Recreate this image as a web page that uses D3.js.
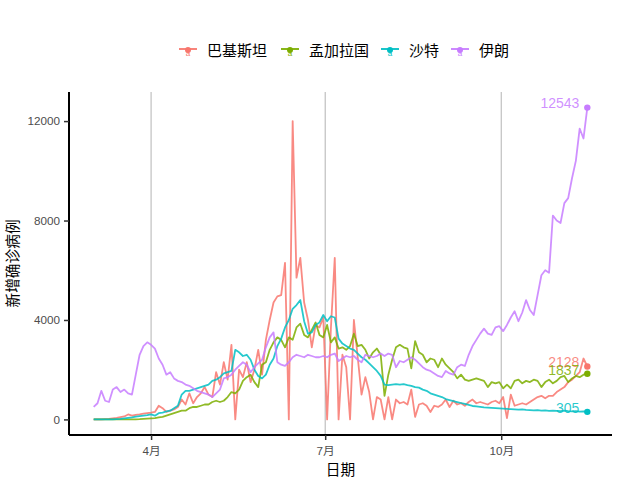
<!DOCTYPE html>
<html>
<head>
<meta charset="utf-8">
<script src="https://cdn.jsdelivr.net/npm/d3@7"></script>
<style>
  body { margin: 0; background: #fff; }
  text { font-family: "Liberation Sans", Arial, "Noto Sans CJK SC", sans-serif; }
  .cjk { font-family: "Noto Sans CJK SC", "Liberation Sans", sans-serif; }
</style>
</head>
<body>
<script>
// series names and colours (ggplot default hue palette)
const countries = ["巴基斯坦", "孟加拉国", "沙特", "伊朗"];
const colors = ["#F8766D", "#7CAE00", "#00BFC4", "#C77CFF"];

// one value every 2 days, 2020-03-02 .. 2020-11-15
const startDate = new Date(2020, 2, 2);
const stepDays = 2;

const pakistan = [
  0, 0, 0, 10, 20, 40, 60, 90, 120, 200,
  150, 180, 200, 230, 250, 270, 300, 550, 450, 300,
  350, 400, 500, 800, 600, 1050, 650, 900, 1050, 1300,
  1000, 900, 1900, 1400, 2300, 1600, 3000, 0, 2000, 1700,
  2300, 1500, 2000, 2800, 1800, 3200, 4000, 4700, 4950, 5000,
  6300, 0, 12000, 5700, 6500, 4700, 4000, 2900, 3800, 3700,
  4100, 0, 3700, 6500, 0, 2600, 2100, 0, 4000, 2500,
  1000, 1700, 1100, 0, 900, 800, 0, 900, 0, 800,
  650, 700, 600, 1200, 100, 600, 650, 550, 300, 550,
  500, 600, 800, 500, 750, 600, 650, 550, 700, 800,
  650, 700, 650, 600, 700, 750, 650, 900, 50, 1000,
  550, 600, 650, 600, 700, 800, 900, 950, 850, 950,
  950, 1100, 1200, 1300, 1500, 1600, 1750, 1900, 2450, 2128
];

const bangladesh = [
  0, 0, 0, 0, 0, 0, 0, 0, 0, 0,
  0, 5, 10, 20, 30, 40, 50, 80, 100, 150,
  200, 250, 300, 350, 350, 450, 500, 500, 550, 600,
  600, 700, 750, 700, 750, 900, 1100, 1050, 1200, 1550,
  1700, 1800, 1500, 1300, 2200, 2300, 2800, 3100, 3300, 3200,
  2900, 3300, 3200, 3700, 3850, 3400, 3300, 3600, 3900, 3400,
  3300, 3800, 3100, 3300, 2850, 2900, 2800, 2950, 3450, 2950,
  3000, 2800, 2450, 2700, 2850, 2600, 950, 1800, 2400, 2900,
  3000, 2900, 2850, 2050, 3150, 2700, 2600, 2300, 2450, 2400,
  2100, 2450, 2200, 2050, 1900, 1650, 1800, 1600, 1550, 1600,
  1650, 1600, 1550, 1300, 1500, 1450, 1500, 1250, 1400, 1250,
  1550, 1600, 1450, 1550, 1500, 1600, 1550, 1300, 1500, 1600,
  1450, 1550, 1700, 1750, 1500, 1650, 1750, 1700, 1800, 1837
];

const saudi = [
  0, 0, 0, 0, 0, 0, 10, 20, 40, 60,
  80, 110, 130, 150, 170, 200, 150, 250, 270, 320,
  350, 450, 550, 1000, 1150, 1150, 1200, 1250, 1300, 1350,
  1400, 1550, 1600, 1700, 1850, 1900, 1950, 2800, 2700, 2550,
  2600, 2400, 2000, 1750, 1650, 1800, 2200, 2450, 2950, 3250,
  3700, 4000, 4450, 4600, 4800, 3950, 3450, 3500, 3800, 3900,
  4200, 3950, 4150, 4100, 3250, 3050, 2950, 2850, 2800, 2650,
  2500, 2400, 2250, 2100, 1950, 1750, 1400, 1380, 1400, 1420,
  1400, 1420, 1380, 1350, 1300, 1280, 1200, 1150, 1050, 1000,
  950, 900, 820, 780, 740, 700, 660, 620, 580, 540,
  520, 500, 480, 470, 460, 450, 440, 430, 420, 410,
  400, 390, 400, 380, 370, 360, 370, 350, 360, 340,
  350, 340, 330, 350, 330, 320, 330, 310, 320, 305
];

const iran = [
  500, 650, 1150, 750, 700, 1200, 1300, 1100, 1200, 1050,
  1000, 1800, 2600, 2950, 3100, 3000, 2850, 2450, 2200, 1800,
  1900, 1650, 1550, 1500, 1400, 1350, 1250, 1150, 1100, 1050,
  1000, 900, 1050, 1200, 1650, 1700, 1800, 2000, 2150, 2300,
  2200, 1900, 2100, 2250, 2400, 2900, 3300, 3500, 2300, 2200,
  2150, 2300, 2500, 2600, 2550, 2500, 2600, 2550, 2500, 2500,
  2550, 2500, 2600, 2650, 2350, 2450, 2550, 2500, 2550, 2400,
  2300, 2600, 2550, 2500, 2550, 2650, 2550, 2650, 2600, 2100,
  2350, 2300, 2400, 2500, 2400, 2250, 2100, 2000, 1950, 1850,
  1750, 1700, 1950, 1850, 1800, 2100, 2200, 2150, 2600, 2950,
  3200, 3450, 3650, 3450, 3400, 3700, 3750, 3550, 3800, 4100,
  4350, 3950, 4300, 4800, 4400, 4200, 5000, 5800, 6000, 5900,
  8200, 8000, 7900, 8700, 8900, 9700, 10400, 11700, 11300, 12543
];

const yTicks = [0, 4000, 8000, 12000];
const xTickDates = [new Date(2020, 3, 1), new Date(2020, 6, 1), new Date(2020, 9, 1)];
const xTickLabels = ["4月", "7月", "10月"];

const allValues = [pakistan, bangladesh, saudi, iran];

const series = countries.map(function (name, k) {
  return {
    name: name,
    color: colors[k],
    values: allValues[k].map(function (v, i) {
      return { date: d3.timeDay.offset(startDate, i * stepDays), value: v };
    })
  };
});

const w = 640, h = 480;
const panelLeft = 69, panelRight = 612, panelTop = 92, panelBottom = 435;

const svg = d3.select("body").append("svg")
  .attr("width", w)
  .attr("height", h);

// ggplot-like 5% expansion of both axes
const dateExtent = d3.extent(series[0].values, function (d) { return d.date; });
const span = dateExtent[1] - dateExtent[0];
const x = d3.scaleTime()
  .domain([new Date(+dateExtent[0] - span * 0.05), new Date(+dateExtent[1] + span * 0.05)])
  .range([panelLeft, panelRight]);

const yMax = d3.max(allValues, function (a) { return d3.max(a); });
const y = d3.scaleLinear()
  .domain([-yMax * 0.05, yMax * 1.05])
  .range([panelBottom, panelTop]);

// vertical grid lines at the month breaks
svg.append("g")
  .selectAll("line")
  .data(xTickDates)
  .enter()
  .append("line")
  .attr("x1", function (d) { return x(d); })
  .attr("x2", function (d) { return x(d); })
  .attr("y1", panelTop)
  .attr("y2", panelBottom)
  .attr("stroke", "#b3b3b3")
  .attr("stroke-width", 1);

// lines
const line = d3.line()
  .x(function (d) { return x(d.date); })
  .y(function (d) { return y(d.value); });

svg.append("g")
  .selectAll("path")
  .data(series)
  .enter()
  .append("path")
  .attr("d", function (d) { return line(d.values); })
  .attr("fill", "none")
  .attr("stroke", function (d) { return d.color; })
  .attr("stroke-opacity", 0.85)
  .attr("stroke-width", 1.8)
  .attr("stroke-linejoin", "round");

// end points and labels
const ends = series.map(function (s) {
  return { name: s.name, color: s.color, last: s.values[s.values.length - 1] };
});

svg.append("g")
  .selectAll("circle")
  .data(ends)
  .enter()
  .append("circle")
  .attr("cx", function (d) { return x(d.last.date); })
  .attr("cy", function (d) { return y(d.last.value); })
  .attr("r", 3.2)
  .attr("fill", function (d) { return d.color; });

svg.append("g")
  .selectAll("text")
  .data(ends)
  .enter()
  .append("text")
  .attr("x", function (d) { return x(d.last.date) - 8; })
  .attr("y", function (d) { return y(d.last.value) - 4; })
  .attr("dy", "0.35em")
  .attr("text-anchor", "end")
  .attr("font-size", 14)
  .attr("fill", function (d) { return d.color; })
  .attr("fill-opacity", 0.85)
  .text(function (d) { return d.last.value; });

// axes
const yAxis = svg.append("g")
  .attr("transform", "translate(" + panelLeft + ",0)")
  .call(d3.axisLeft(y).tickValues(yTicks).tickSize(5).tickPadding(4).tickFormat(d3.format("d")));
yAxis.select(".domain").attr("d", "M0," + panelTop + "V" + panelBottom).attr("stroke", "#000").attr("stroke-width", 2);
yAxis.selectAll(".tick line").attr("stroke", "#333").attr("stroke-width", 1.5);
yAxis.selectAll(".tick text").attr("fill", "#4d4d4d").attr("font-size", 11.7)
  .attr("font-family", "Liberation Sans, Arial, sans-serif");

const xAxis = svg.append("g")
  .attr("transform", "translate(0," + panelBottom + ")")
  .call(d3.axisBottom(x).tickValues(xTickDates).tickSize(5).tickPadding(7)
    .tickFormat(function (d, i) { return xTickLabels[i]; }));
xAxis.select(".domain").attr("d", "M" + panelLeft + ",0H" + panelRight).attr("stroke", "#000").attr("stroke-width", 2);
xAxis.selectAll(".tick line").attr("stroke", "#333").attr("stroke-width", 1.5);
xAxis.selectAll(".tick text").attr("fill", "#4d4d4d").attr("font-size", 11.7)
  .attr("font-family", "Noto Sans CJK SC, Liberation Sans, sans-serif");

// axis titles
svg.append("text")
  .attr("class", "cjk")
  .attr("x", (panelLeft + panelRight) / 2)
  .attr("y", 470)
  .attr("dy", "0.35em")
  .attr("text-anchor", "middle")
  .attr("font-size", 14.7)
  .attr("fill", "#000")
  .text("日期");

svg.append("text")
  .attr("class", "cjk")
  .attr("transform", "translate(13," + (panelTop + panelBottom) / 2 + ") rotate(-90)")
  .attr("text-anchor", "middle")
  .attr("dy", "0.35em")
  .attr("font-size", 14.7)
  .attr("fill", "#000")
  .text("新增确诊病例");

// legend on top
const legendX = [188, 290, 390, 460];
const legend = svg.append("g").attr("transform", "translate(0,51)");

const item = legend.selectAll("g")
  .data(series)
  .enter()
  .append("g")
  .attr("transform", function (d, i) { return "translate(" + legendX[i] + ",0)"; });

item.append("line")
  .attr("x1", -9).attr("x2", 9)
  .attr("y1", -2).attr("y2", -2)
  .attr("stroke", function (d) { return d.color; })
  .attr("stroke-width", 1.8);

item.append("circle")
  .attr("cx", 0).attr("cy", -1)
  .attr("r", 3)
  .attr("fill", function (d) { return d.color; });

item.append("text")
  .attr("x", 0).attr("y", 5)
  .attr("text-anchor", "middle")
  .attr("font-size", 8)
  .attr("fill", function (d) { return d.color; })
  .text("a");

item.append("text")
  .attr("class", "cjk")
  .attr("x", 19)
  .attr("y", 0)
  .attr("dy", "0.35em")
  .attr("font-size", 15)
  .attr("fill", "#000")
  .text(function (d) { return d.name; });
</script>
</body>
</html>
